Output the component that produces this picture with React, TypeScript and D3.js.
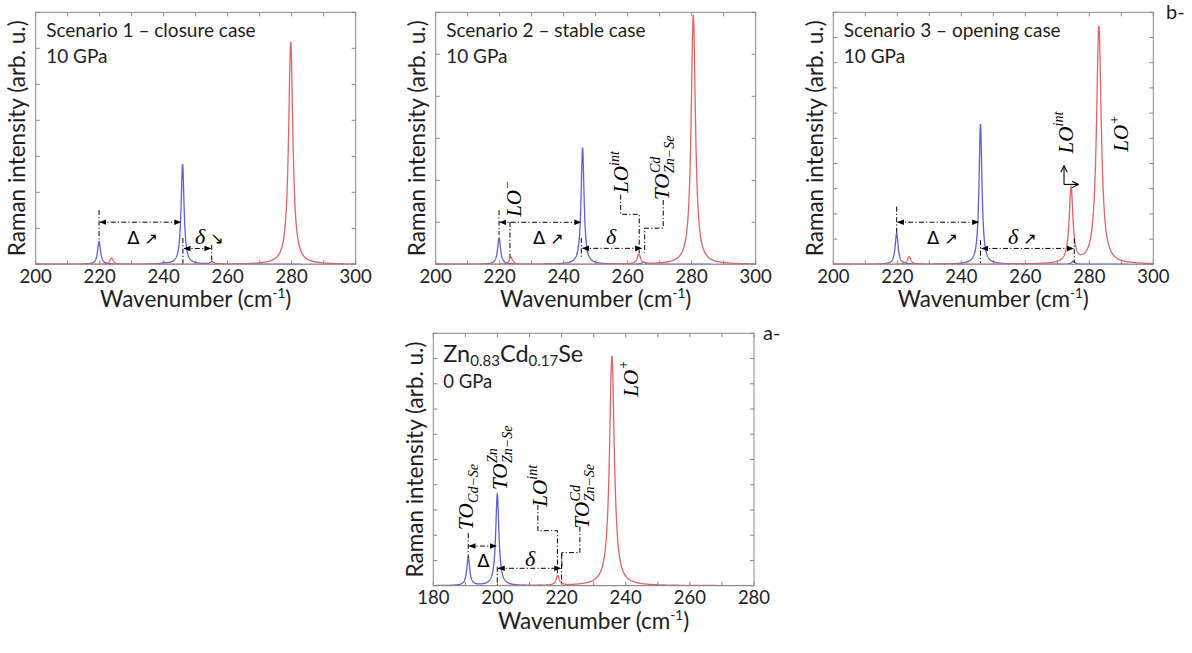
import React from "react";
import * as d3 from "d3";

type Peak = [number, number, number]; // position (cm-1), height (tick units), HWHM (cm-1)

// Scenario 1 – closure case, 10 GPa
const s1BluePeaks: Peak[] = [[219.8, 0.63, 0.55], [240.0, 0.03, 0.6], [245.9, 2.78, 0.55], [255.1, 0.07, 0.6]];
const s1RedPeaks: Peak[] = [[223.7, 0.17, 0.6], [279.7, 6.18, 0.8]];
// Scenario 2 – stable case, 10 GPa
const s2BluePeaks: Peak[] = [[219.8, 0.63, 0.55], [245.9, 2.78, 0.55], [265.0, 0.05, 0.6]];
const s2RedPeaks: Peak[] = [[223.5, 0.17, 0.6], [263.5, 0.24, 0.6], [280.5, 5.93, 0.8]];
// Scenario 3 – opening case, 10 GPa
const s3BluePeaks: Peak[] = [[219.8, 1.23, 0.55], [246.0, 5.56, 0.55], [275.0, 0.12, 0.6]];
const s3RedPeaks: Peak[] = [[223.7, 0.3, 0.6], [274.3, 2.99, 0.7], [283.0, 9.43, 0.9]];
// Zn0.83Cd0.17Se, 0 GPa
const aBluePeaks: Peak[] = [[190.9, 1.11, 0.55], [199.96, 3.63, 0.6]];
const aRedPeaks: Peak[] = [[218.8, 0.38, 0.6], [235.7, 9.1, 0.9]];

const xTicksTop = [200, 220, 240, 260, 280, 300];
const xTicksBottom = [180, 200, 220, 240, 260, 280];

const BLUE = "#5f5fd6";
const RED = "#e36464";
const BOX = "#8a8a8a";
const TXT = "#1e1e1e";
const SANS = "Lato, 'Open Sans', 'DejaVu Sans', sans-serif";
const SERIF = "'Liberation Serif', 'DejaVu Serif', serif";

type Label = { x: number; y: number; base: string; sup?: string; sub?: string };
type Txt = { x: number; y: number; kind: "Delta" | "delta"; arrow?: string; anchor?: string };
type Ann = {
  vlines: [number, number, number][];
  arrows: [number, number, number][];
  polys: [number, number][][];
  labels: Label[];
  texts: Txt[];
  bent?: [number, number, number, number];
};

const ann1: Ann = {
  vlines: [[219.8, 1.51, 0.65], [246.0, 0.73, 0.02], [255.0, 0.54, 0.05]],
  arrows: [[219.8, 245.6, 1.17], [246.1, 255.0, 0.44]],
  polys: [],
  labels: [],
  texts: [
    { x: 228.6, y: 0.56, kind: "Delta", arrow: "↗" },
    { x: 249.8, y: 0.56, kind: "delta", arrow: "↘" },
  ],
};
const ann2: Ann = {
  vlines: [[219.8, 1.29, 0.7], [223.2, 1.01, 0.16], [245.5, 0.63, 0.15]],
  arrows: [[219.8, 245.6, 1.0], [245.6, 264.6, 0.38]],
  polys: [
    [[257.8, 1.66], [257.8, 1.19], [263.6, 1.19], [263.6, 0.27]],
    [[271.1, 1.53], [271.1, 0.86], [265.3, 0.86], [265.3, 0.27]],
  ],
  labels: [
    { x: 226.7, y: 1.13, base: "LO", sup: "−" },
    { x: 260.2, y: 1.7, base: "LO", sup: "int" },
    { x: 273.0, y: 1.53, base: "TO", sup: "Cd", sub: "Zn−Se" },
  ],
  texts: [
    { x: 230.4, y: 0.48, kind: "Delta", arrow: "↗" },
    { x: 253.2, y: 0.48, kind: "delta" },
  ],
};
const ann3: Ann = {
  vlines: [[219.8, 2.29, 1.24], [246.0, 0.96, 0.05], [275.3, 1.03, 0.05]],
  arrows: [[219.8, 245.7, 1.67], [246.1, 275.3, 0.63]],
  polys: [],
  labels: [
    { x: 274.8, y: 4.4, base: "LO", sup: "int" },
    { x: 292.2, y: 4.47, base: "LO", sup: "+" },
  ],
  texts: [
    { x: 229.3, y: 0.81, kind: "Delta", arrow: "↗" },
    { x: 254.6, y: 0.81, kind: "delta", arrow: "↗" },
  ],
  bent: [272.1, 3.17, 3.91, 276.6],
};
const annA: Ann = {
  vlines: [[190.9, 2.08, 1.1], [199.96, 0.75, 0.03], [220.0, 1.28, 0.11]],
  arrows: [[190.9, 199.9, 1.57], [200.0, 220.0, 0.69]],
  polys: [
    [[212.6, 3.2], [212.6, 2.18], [218.7, 2.18], [218.7, 0.49]],
    [[225.7, 2.34], [225.7, 1.31], [220.1, 1.31], [220.1, 0.75]],
  ],
  labels: [
    { x: 192.5, y: 2.21, base: "TO", sub: "Cd−Se" },
    { x: 202.9, y: 3.79, base: "TO", sup: "Zn", sub: "Zn−Se" },
    { x: 215.4, y: 3.13, base: "LO", sup: "int" },
    { x: 228.6, y: 2.27, base: "TO", sup: "Cd", sub: "Zn−Se" },
    { x: 243.7, y: 7.49, base: "LO", sup: "+" },
  ],
  texts: [
    { x: 195.6, y: 0.74, kind: "Delta", anchor: "middle" },
    { x: 210.2, y: 0.8, kind: "delta", anchor: "middle" },
  ],
};

type PanelCfg = {
  id: string;
  x0: number; y0: number; w: number; h: number;
  xDomain: [number, number];
  xLabels: number[];
  yMax: number;
  blue: Peak[]; red: Peak[];
  ann: Ann;
  header: "scenario" | "alloy";
  headerText: string;
  gpa: string;
};

const panels: PanelCfg[] = [
  { id: "p1", x0: 35.7, y0: 12.3, w: 320, h: 252, xDomain: [200, 300], xLabels: xTicksTop, yMax: 7, blue: s1BluePeaks, red: s1RedPeaks, ann: ann1, header: "scenario", headerText: "Scenario 1 – closure case", gpa: "10 GPa" },
  { id: "p2", x0: 435.7, y0: 12.3, w: 320, h: 252, xDomain: [200, 300], xLabels: xTicksTop, yMax: 6, blue: s2BluePeaks, red: s2RedPeaks, ann: ann2, header: "scenario", headerText: "Scenario 2 – stable case", gpa: "10 GPa" },
  { id: "p3", x0: 833.3, y0: 12.3, w: 320, h: 252, xDomain: [200, 300], xLabels: xTicksTop, yMax: 10, blue: s3BluePeaks, red: s3RedPeaks, ann: ann3, header: "scenario", headerText: "Scenario 3 – opening case", gpa: "10 GPa" },
  { id: "pa", x0: 433.3, y0: 333.3, w: 320.7, h: 252.4, xDomain: [180, 280], xLabels: xTicksBottom, yMax: 10, blue: aBluePeaks, red: aRedPeaks, ann: annA, header: "alloy", headerText: "", gpa: "0 GPa" },
];

function spectrum(peaks: Peak[], domain: [number, number]): [number, number][] {
  const pts: [number, number][] = [];
  for (const x of d3.range(domain[0], domain[1] + 0.001, 0.05)) {
    let y = 0;
    for (const [p, a, g] of peaks) y += (a * g * g) / ((x - p) * (x - p) + g * g);
    pts.push([x, y]);
  }
  return pts;
}

function RotLabel({ px, py, l }: { px: number; py: number; l: Label }) {
  const bw = 26.5;
  return (
    <g transform={`translate(${px},${py}) rotate(-90)`} fontFamily={SERIF} fontStyle="italic" fill="#000">
      <text x={0} y={0} fontSize={21}>{l.base}</text>
      {l.sup && <text x={bw + 0.5} y={-9.5} fontSize={14}>{l.sup}</text>}
      {l.sub && <text x={bw + 0.5} y={5} fontSize={14}>{l.sub}</text>}
    </g>
  );
}

function Panel({ cfg }: { cfg: PanelCfg }) {
  const { x0, y0, w, h } = cfg;
  const x = d3.scaleLinear().domain(cfg.xDomain).range([x0, x0 + w]);
  const y = d3.scaleLinear().domain([0, cfg.yMax]).range([y0 + h, y0]);
  const line = d3.line<[number, number]>().x((d) => x(d[0])).y((d) => y(d[1]));
  const blue = spectrum(cfg.blue, cfg.xDomain);
  const red = spectrum(cfg.red, cfg.xDomain);
  const minor = d3.range(cfg.xDomain[0], cfg.xDomain[1] + 0.001, 10);
  const yT = d3.range(0, cfg.yMax + 0.001, 1);
  const tl = 4;
  const dash = "5,2.2,1.2,2.2";
  const a = cfg.ann;
  const bottom = y0 + h;
  return (
    <g>
      <defs>
        <clipPath id={`clip-${cfg.id}`}>
          <rect x={x0} y={y0} width={w} height={h} />
        </clipPath>
      </defs>
      <rect x={x0} y={y0} width={w} height={h} fill="#fff" stroke="none" />
      {/* ticks */}
      <g stroke={BOX} strokeWidth={1}>
        {minor.map((t) => (
          <g key={`xt${t}`}>
            <line x1={x(t)} x2={x(t)} y1={bottom} y2={bottom - tl} />
            <line x1={x(t)} x2={x(t)} y1={y0} y2={y0 + tl} />
          </g>
        ))}
        {yT.map((t) => (
          <g key={`yt${t}`}>
            <line x1={x0} x2={x0 + tl} y1={y(t)} y2={y(t)} />
            <line x1={x0 + w} x2={x0 + w - tl} y1={y(t)} y2={y(t)} />
          </g>
        ))}
      </g>
      <g clipPath={`url(#clip-${cfg.id})`} fill="none" strokeWidth={1.3}>
        <path d={line(blue) || ""} stroke={BLUE} />
        <path d={line(red) || ""} stroke={RED} />
      </g>
      <rect x={x0} y={y0} width={w} height={h} fill="none" stroke={BOX} strokeWidth={1} />
      {/* tick labels */}
      {cfg.xLabels.map((t) => (
        <text key={`xl${t}`} x={x(t)} y={bottom + 18.5} textAnchor="middle" fontFamily={SANS} fontSize={18.5} fill={TXT}>
          {t}
        </text>
      ))}
      <text x={x0 + w / 2} y={bottom + 43} textAnchor="middle" fontFamily={SANS} fontSize={22.5} fill={TXT}>
        Wavenumber (cm<tspan fontSize={13.5} dy={-9}>-1</tspan>
        <tspan dy={9}>)</tspan>
      </text>
      <text
        transform={`translate(${x0 - 19},${y0 + h / 2}) rotate(-90)`}
        textAnchor="middle"
        dominantBaseline="central"
        fontFamily={SANS}
        fontSize={22.5}
        fill={TXT}
      >
        Raman intensity (arb. u.)
      </text>
      {/* header */}
      {cfg.header === "scenario" ? (
        <g fontFamily={SANS} fontSize={19} fill={TXT}>
          <text x={x0 + 10.5} y={y0 + 25}>{cfg.headerText}</text>
          <text x={x0 + 10.5} y={y0 + 51}>{cfg.gpa}</text>
        </g>
      ) : (
        <g fontFamily={SANS} fill={TXT}>
          <text x={x0 + 10} y={y0 + 28.4} fontSize={23.5}>
            Zn<tspan fontSize={15} dy={4}>0.83</tspan>
            <tspan dy={-4}>Cd</tspan>
            <tspan fontSize={15} dy={4}>0.17</tspan>
            <tspan dy={-4}>Se</tspan>
          </text>
          <text x={x0 + 10} y={y0 + 55} fontSize={18.5}>{cfg.gpa}</text>
        </g>
      )}
      {/* annotations */}
      <g stroke="#000" strokeWidth={1} strokeDasharray={dash} fill="none">
        {a.vlines.map(([vx, ya, yb], i) => (
          <line key={`v${i}`} x1={x(vx)} x2={x(vx)} y1={y(ya)} y2={y(yb)} />
        ))}
        {a.arrows.map(([xa, xb, yy], i) => (
          <line
            key={`a${i}`}
            x1={x(xa) + 1}
            x2={x(xb) - 1}
            y1={y(yy)}
            y2={y(yy)}
            markerStart="url(#arrowHead)"
            markerEnd="url(#arrowHead)"
          />
        ))}
        {a.polys.map((p, i) => (
          <polyline key={`p${i}`} points={p.map(([px, py]) => `${x(px)},${y(py)}`).join(" ")} />
        ))}
      </g>
      {a.bent && (
        <g stroke="#000" strokeWidth={1.1} fill="none">
          <line x1={x(a.bent[0])} x2={x(a.bent[0])} y1={y(a.bent[1])} y2={y(a.bent[2])} markerEnd="url(#openHead)" />
          <line x1={x(a.bent[0])} x2={x(a.bent[3])} y1={y(a.bent[1])} y2={y(a.bent[1])} markerEnd="url(#openHead)" />
        </g>
      )}
      {a.labels.map((l, i) => (
        <RotLabel key={`l${i}`} px={x(l.x)} py={y(l.y)} l={l} />
      ))}
      {a.texts.map((t, i) => (
        <text key={`t${i}`} x={x(t.x)} y={y(t.y)} textAnchor={t.anchor || "start"} fill="#000">
          {t.kind === "Delta" ? (
            <tspan fontFamily="'DejaVu Sans', sans-serif" fontSize={18}>Δ</tspan>
          ) : (
            <tspan fontFamily={SERIF} fontStyle="italic" fontSize={22}>δ</tspan>
          )}
          {t.arrow && (
            <tspan fontFamily="'DejaVu Sans', sans-serif" fontSize={16} dx={5}>
              {t.arrow}
            </tspan>
          )}
        </text>
      ))}
    </g>
  );
}

export default function App() {
  return (
    <svg
      width={1192}
      height={653}
      viewBox="0 0 1192 653"
      style={{ position: "fixed", left: 0, top: 0, background: "#fff" }}
    >
      <defs>
        <marker id="arrowHead" viewBox="0 0 10 10" refX="9" refY="5" markerWidth="7" markerHeight="7" orient="auto-start-reverse" markerUnits="userSpaceOnUse">
          <path d="M0,1 L10,5 L0,9 Z" fill="#000" stroke="none" />
        </marker>
        <marker id="openHead" viewBox="0 0 10 10" refX="9" refY="5" markerWidth="8" markerHeight="8" orient="auto" markerUnits="userSpaceOnUse">
          <path d="M1,1 L9,5 L1,9" fill="none" stroke="#000" strokeWidth={1.3} />
        </marker>
      </defs>
      <rect x={0} y={0} width={1192} height={653} fill="#fff" />
      {panels.map((p) => (
        <Panel key={p.id} cfg={p} />
      ))}
      <text x={1166} y={19} fontFamily={SANS} fontSize={20} fill={TXT}>b-</text>
      <text x={763} y={340} fontFamily={SANS} fontSize={20} fill={TXT}>a-</text>
    </svg>
  );
}
